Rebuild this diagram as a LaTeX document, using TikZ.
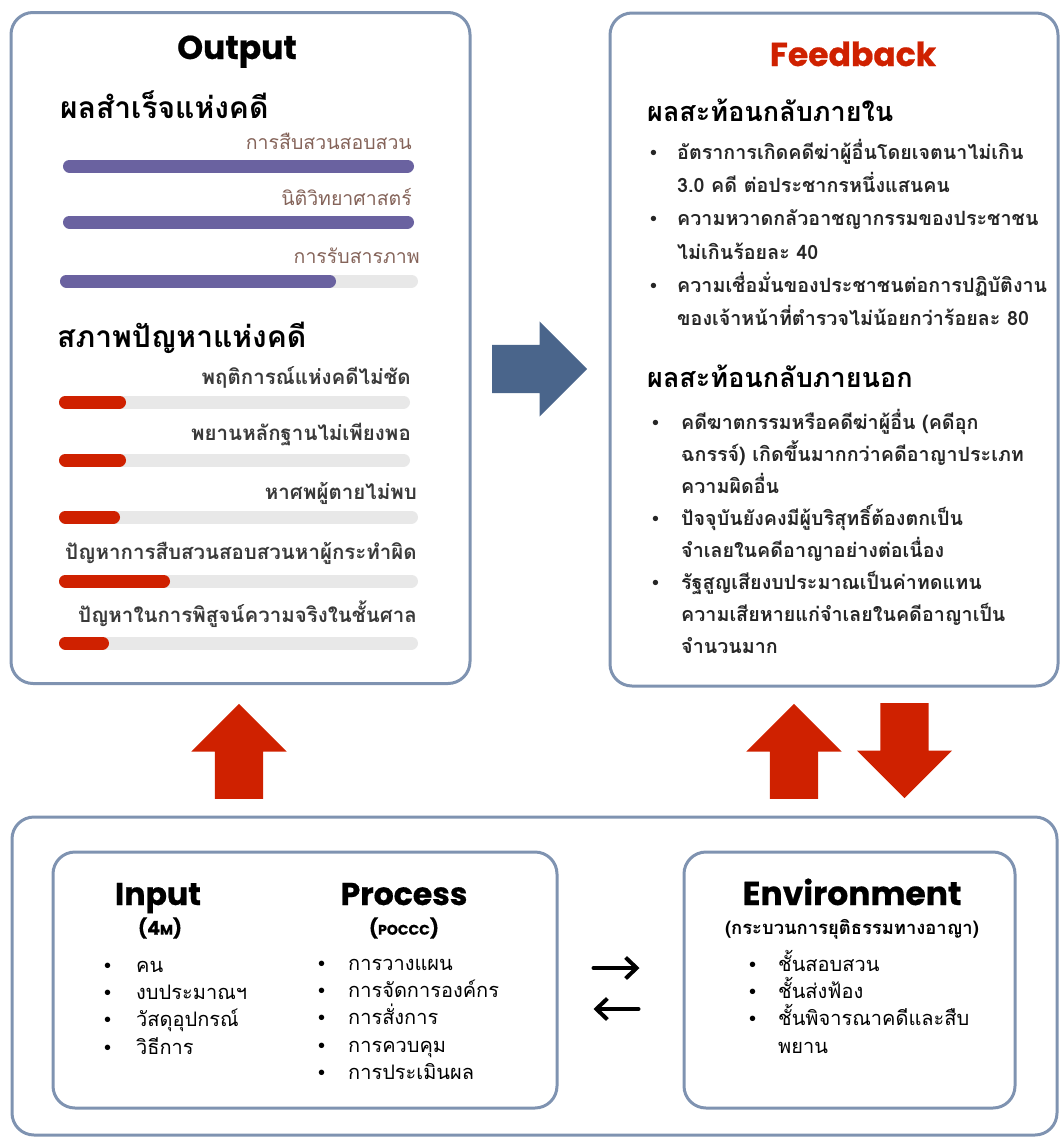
\documentclass[tikz,border=0pt]{standalone}
\usepackage{fontspec}
\usepackage{tikz}
\usetikzlibrary{arrows.meta, shapes.arrows}
\setmainfont{Poppins}[BoldFeatures={FakeBold=0.6}]
\newfontfamily\thai[Script=Thai]{Loma}
\newfontfamily\dotfont{Liberation Sans}
\newcommand{\bul}[1][25pt]{\makebox[#1][l]{\dotfont\mdseries •}}
\newcommand{\gap}[1][25pt]{\makebox[#1]{}}
\definecolor{frame}{RGB}{127,147,177}
\definecolor{arrowblue}{RGB}{74,101,139}
\definecolor{alarm}{RGB}{207,33,0}
\definecolor{barpurple}{RGB}{106,98,160}
\definecolor{trackgray}{RGB}{232,232,232}
\definecolor{labelbrown}{RGB}{133,100,90}
\definecolor{labelgray}{RGB}{58,58,58}

\begin{document}
\begin{tikzpicture}[x=1pt, y=-1pt,
  panel/.style={draw=frame, line width=3pt, rounded corners=22pt, inner sep=0pt},
  headline/.style={anchor=base, font=\bfseries\fontsize{33}{33}\selectfont},
  subline/.style={font=\bfseries\fontsize{19}{19}\selectfont},
  thaihead/.style={anchor=mid west, inner sep=0pt, font=\thai\bfseries\fontsize{27}{27}\selectfont},
  goodlabel/.style={anchor=mid east, inner sep=0pt, text=labelbrown, font=\thai\fontsize{19.5}{19.5}\selectfont},
  badlabel/.style={anchor=mid east, inner sep=0pt, text=labelgray, font=\thai\bfseries\fontsize{20.5}{20.5}\selectfont},
  track/.style={line width=13pt, line cap=round, draw=trackgray},
  goodbar/.style={track, draw=barpurple},
  badbar/.style={track, draw=alarm},
  fblist/.style={anchor=north west, align=left, inner sep=0pt, text=black!85, font=\thai\bfseries\fontsize{19.7}{33.2}\selectfont},
  plainlist/.style={anchor=north west, align=left, inner sep=0pt, font=\thai\fontsize{20}{27.2}\selectfont},
  blockarrow/.style={single arrow, single arrow head extend=23.5pt, inner xsep=0pt, inner ysep=24pt, minimum height=95pt, anchor=tail},
  swaparrow/.style={line width=4pt, line cap=round, -{Straight Barb[length=11pt, width=21pt, line width=4pt]}}]
\useasboundingbox (0,0) rectangle (1060,1138);

\node[panel, minimum width=459pt, minimum height=671pt] (output) at (240.5,348) {};
\node[panel, minimum width=448pt, minimum height=673pt] (feedback) at (834,349.5) {};
\node[panel, minimum width=1045pt, minimum height=318pt] (system) at (534.5,976) {};
\node[panel, minimum width=504pt, minimum height=256pt] (ipbox) at (305,980) {};
\node[panel, minimum width=331pt, minimum height=256pt] (envbox) at (849.5,980) {};

\node[blockarrow, fill=arrowblue] (tofeedback) at (492,369) {};
\node[blockarrow, fill=alarm, rotate=90] (tooutput) at (239,799) {};
\node[blockarrow, fill=alarm, rotate=90] (envup) at (794,799) {};
\node[blockarrow, fill=alarm, rotate=-90] (envdown) at (904.5,703) {};

\node[headline] (outtitle) at (237,59) {Output};
\node[thaihead, font=\thai\bfseries\fontsize{30}{30}\selectfont] (success) at (60,116) {ผลสำเร็จแห่งคดี};
\node[goodlabel] (g1) at (412,146.5) {การสืบสวนสอบสวน};
\draw[goodbar] (69.5,166) -- (407.5,166);
\node[goodlabel] (g2) at (412,202.5) {นิติวิทยาศาสตร์};
\draw[goodbar] (69.5,222) -- (407.5,222);
\node[goodlabel] (g3) at (420,260.5) {การรับสารภาพ};
\draw[track] (66.5,281) -- (411.5,281);
\draw[goodbar] (66.5,281) -- (329.5,281);

\node[thaihead, font=\thai\bfseries\fontsize{30}{30}\selectfont] (problem) at (57,345) {สภาพปัญหาแห่งคดี};
\node[badlabel] (b1) at (411,381.5) {พฤติการณ์แห่งคดีไม่ชัด};
\draw[track] (65.5,402) -- (403.5,402);
\draw[badbar] (65.5,402) -- (119.5,402);
\node[badlabel] (b2) at (411,437.5) {พยานหลักฐานไม่เพียงพอ};
\draw[track] (65.5,460) -- (403.5,460);
\draw[badbar] (65.5,460) -- (119.5,460);
\node[badlabel] (b3) at (417,496.5) {หาศพผู้ตายไม่พบ};
\draw[track] (65.5,517) -- (411.5,517);
\draw[badbar] (65.5,517) -- (113.5,517);
\node[badlabel] (b4) at (417,556.5) {ปัญหาการสืบสวนสอบสวนหาผู้กระทำผิด};
\draw[track] (65.5,581) -- (411.5,581);
\draw[badbar] (65.5,581) -- (163.5,581);
\node[badlabel] (b5) at (417,619.5) {ปัญหาในการพิสูจน์ความจริงในชั้นศาล};
\draw[track] (65.5,643) -- (411.5,643);
\draw[badbar] (65.5,643) -- (102.5,643);

\node[headline, text=alarm] (fbtitle) at (853,66) {Feedback};
\node[thaihead] (inner) at (647,119) {ผลสะท้อนกลับภายใน};
\node[fblist] (innerlist) at (650,139) {\bul[27pt]อัตราการเกิดคดีฆ่าผู้อื่นโดยเจตนาไม่เกิน\\
  \gap[27pt]3.0 คดี ต่อประชากรหนึ่งแสนคน\\
  \bul[27pt]ความหวาดกลัวอาชญากรรมของประชาชน\\
  \gap[27pt]ไม่เกินร้อยละ 40\\
  \bul[27pt]ความเชื่อมั่นของประชาชนต่อการปฏิบัติงาน\\
  \gap[27pt]ของเจ้าหน้าที่ตำรวจไม่น้อยกว่าร้อยละ 80};
\node[thaihead] (outer) at (647,385) {ผลสะท้อนกลับภายนอก};
\node[fblist, font=\thai\bfseries\fontsize{19.7}{32}\selectfont] (outerlist) at (652,409) {\bul[29pt]คดีฆาตกรรมหรือคดีฆ่าผู้อื่น (คดีอุก\\
  \gap[29pt]ฉกรรจ์) เกิดขึ้นมากกว่าคดีอาญาประเภท\\
  \gap[29pt]ความผิดอื่น\\
  \bul[29pt]ปัจจุบันยังคงมีผู้บริสุทธิ์ต้องตกเป็น\\
  \gap[29pt]จำเลยในคดีอาญาอย่างต่อเนื่อง\\
  \bul[29pt]รัฐสูญเสียงบประมาณเป็นค่าทดแทน\\
  \gap[29pt]ความเสียหายแก่จำเลยในคดีอาญาเป็น\\
  \gap[29pt]จำนวนมาก};

\node[headline, font=\bfseries\fontsize{31.5}{31.5}\selectfont] (input) at (158,905) {Input};
\node[subline] (fourm) at (160,928) {(4{\fontsize{14}{14}\selectfont M})};
\node[plainlist] (inputlist) at (104,961) {\bul[32pt]คน\\ \bul[32pt]งบประมาณฯ\\ \bul[32pt]วัสดุอุปกรณ์\\ \bul[32pt]วิธีการ};
\node[headline, font=\bfseries\fontsize{31.5}{31.5}\selectfont] (process) at (404,905) {Process};
\node[subline] (poccc) at (404,928) {({\fontsize{14}{14}\selectfont POCCC})};
\node[plainlist] (processlist) at (318,959) {\bul[30pt]การวางแผน\\ \bul[30pt]การจัดการองค์กร\\ \bul[30pt]การสั่งการ\\ \bul[30pt]การควบคุม\\ \bul[30pt]การประเมินผล};
\node[headline] (environment) at (852,905) {Environment};
\node[font=\thai\bfseries\fontsize{18.4}{18.4}\selectfont] (justice) at (852,929) {(กระบวนการยุติธรรมทางอาญา)};
\node[plainlist] (envlist) at (749,950) {\bul[29pt]ชั้นสอบสวน\\ \bul[29pt]ชั้นส่งฟ้อง\\ \bul[29pt]ชั้นพิจารณาคดีและสืบ\\ \gap[29pt]พยาน};

\draw[swaparrow, shorten <=35pt, shorten >=43pt] ([yshift=12pt]ipbox.east) -- ([yshift=12pt]envbox.west);
\draw[swaparrow, shorten <=44pt, shorten >=35pt] ([yshift=-29pt]envbox.west) -- ([yshift=-29pt]ipbox.east);
\end{tikzpicture}
\end{document}
